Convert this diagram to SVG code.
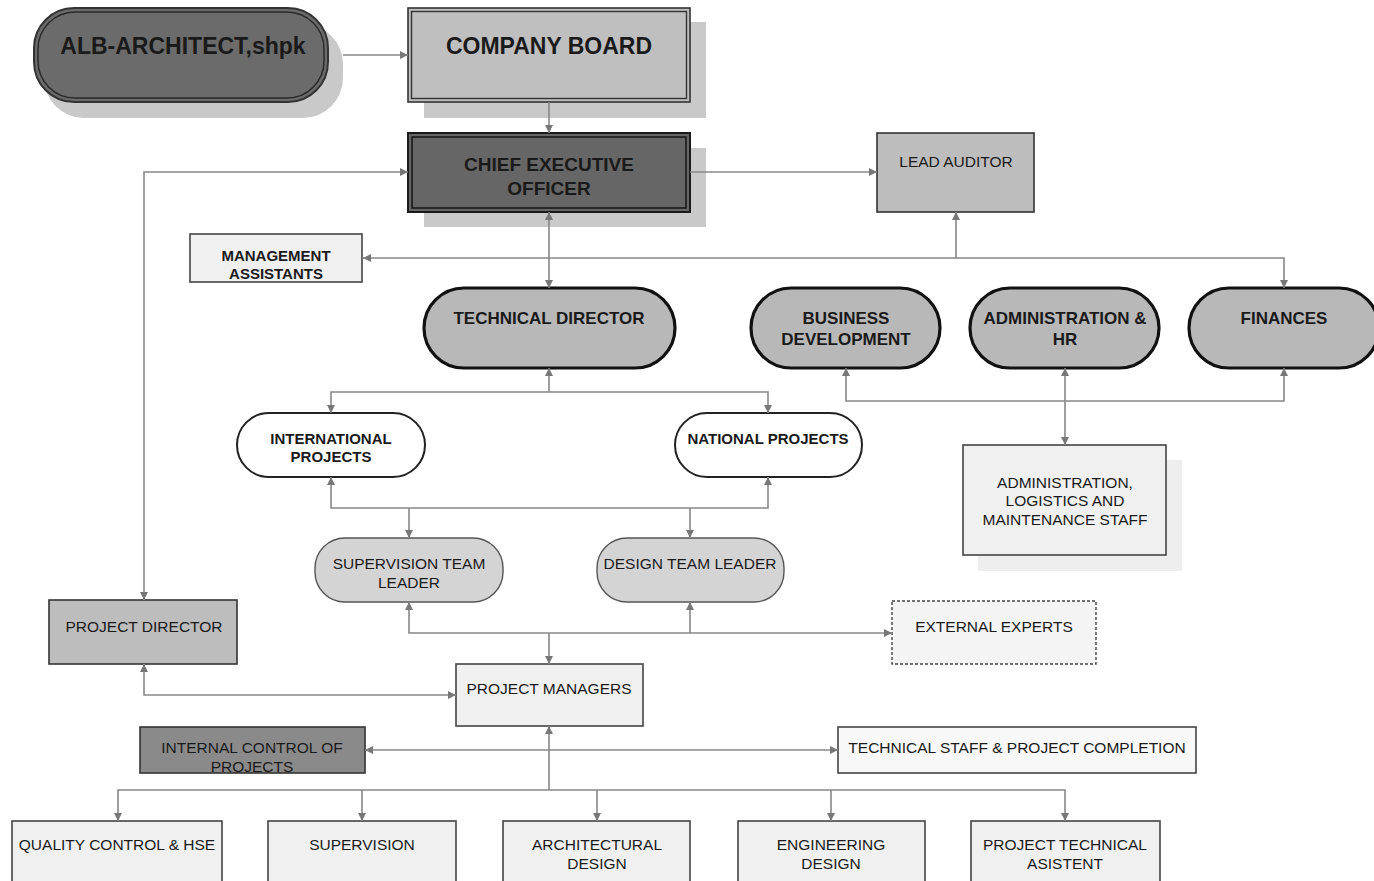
<svg xmlns="http://www.w3.org/2000/svg" width="1374" height="881" viewBox="0 0 1374 881">
<defs>
<marker id="ar" viewBox="0 0 10 10" refX="10" refY="5" markerWidth="8" markerHeight="8" markerUnits="userSpaceOnUse" orient="auto-start-reverse">
<path d="M0,0 L10,5 L0,10 z" fill="#777"/>
</marker>
<style>
text{font-family:"Liberation Sans",Arial,sans-serif;text-anchor:middle;fill:#1a1a1a}
.b{font-weight:bold}
.r{font-size:15.5px}
.c{fill:none;stroke:#888;stroke-width:1.6}
.a{marker-end:url(#ar)}
.s{marker-start:url(#ar)}
.sh{fill:#c9c9c9}
.box{fill:#f0f0f0;stroke:#444;stroke-width:1.6}
.pill{fill:#b8b8b8;stroke:#111;stroke-width:3.2}
.wp{fill:#fff;stroke:#222;stroke-width:2}
.lp{fill:#d4d4d4;stroke:#555;stroke-width:1.4}
.gb{fill:#bdbdbd;stroke:#333;stroke-width:1.6}
</style>
</defs>
<rect width="1374" height="881" fill="#fff"/>

<g id="alb">
<rect class="sh" x="44" y="24" width="299" height="94" rx="40"/>
<rect x="34" y="8" width="294" height="94" rx="40" fill="#6b6b6b" stroke="#333" stroke-width="2"/>
<rect x="38" y="12" width="286" height="86" rx="37" fill="none" stroke="#2a2a2a" stroke-width="1.5"/>
<text class="b" x="183" y="54" font-size="23">ALB-ARCHITECT,shpk</text>
</g>

<g id="board">
<rect class="sh" x="424" y="22" width="282" height="96"/>
<rect x="408" y="8" width="282" height="94" fill="#bfbfbf" stroke="#333" stroke-width="1.6"/>
<rect x="411.5" y="11.5" width="275" height="87" fill="none" stroke="#333" stroke-width="1.4"/>
<text class="b" x="549" y="54" font-size="23">COMPANY BOARD</text>
</g>

<g id="ceo">
<rect class="sh" x="424" y="148" width="282" height="79"/>
<rect x="408" y="133" width="282" height="79" fill="#666" stroke="#1a1a1a" stroke-width="2"/>
<rect x="412" y="137" width="274" height="71" fill="none" stroke="#1a1a1a" stroke-width="1.6"/>
<text class="b" x="549" y="171" font-size="19">CHIEF EXECUTIVE</text>
<text class="b" x="549" y="195" font-size="19">OFFICER</text>
</g>

<g id="auditor">
<rect class="gb" x="877" y="133" width="157" height="79"/>
<text class="r" x="956" y="167">LEAD AUDITOR</text>
</g>

<g id="mgmt">
<rect class="box" x="190" y="234" width="172" height="48"/>
<text class="b" x="276" y="261" font-size="15">MANAGEMENT</text>
<text class="b" x="276" y="279" font-size="15">ASSISTANTS</text>
</g>

<g id="techdir">
<rect class="pill" x="424" y="288" width="251" height="80" rx="40"/>
<text class="b" x="549" y="324" font-size="17">TECHNICAL DIRECTOR</text>
</g>

<g id="busdev">
<rect class="pill" x="751" y="288" width="189" height="80" rx="40"/>
<text class="b" x="846" y="324" font-size="17">BUSINESS</text>
<text class="b" x="846" y="345" font-size="17">DEVELOPMENT</text>
</g>

<g id="adminhr">
<rect class="pill" x="970" y="288" width="189" height="80" rx="40"/>
<text class="b" x="1065" y="324" font-size="17">ADMINISTRATION &amp;</text>
<text class="b" x="1065" y="345" font-size="17">HR</text>
</g>

<g id="finances">
<rect class="pill" x="1189" y="288" width="190" height="80" rx="40"/>
<text class="b" x="1284" y="324" font-size="17">FINANCES</text>
</g>

<g id="adminstaff">
<rect x="978" y="460" width="204" height="111" fill="#eeeeee"/>
<rect class="box" x="963" y="445" width="203" height="110"/>
<text class="r" x="1065" y="488">ADMINISTRATION,</text>
<text class="r" x="1065" y="506">LOGISTICS AND</text>
<text class="r" x="1065" y="525">MAINTENANCE STAFF</text>
</g>

<g id="intl">
<rect class="wp" x="237" y="413" width="188" height="64" rx="32"/>
<text class="b" x="331" y="444" font-size="15">INTERNATIONAL</text>
<text class="b" x="331" y="462" font-size="15">PROJECTS</text>
</g>

<g id="natl">
<rect class="wp" x="675" y="413" width="187" height="64" rx="32"/>
<text class="b" x="768" y="444" font-size="15">NATIONAL PROJECTS</text>
</g>

<g id="suplead">
<rect class="lp" x="315" y="538" width="188" height="64" rx="30"/>
<text class="r" x="409" y="569">SUPERVISION TEAM</text>
<text class="r" x="409" y="588">LEADER</text>
</g>

<g id="deslead">
<rect class="lp" x="597" y="538" width="187" height="64" rx="30"/>
<text class="r" x="690" y="569">DESIGN TEAM LEADER</text>
</g>

<g id="external">
<rect x="892" y="601" width="204" height="63" fill="#f4f4f4" stroke="#444" stroke-width="1.4" stroke-dasharray="3,2"/>
<text class="r" x="994" y="632">EXTERNAL EXPERTS</text>
</g>

<g id="projdir">
<rect class="gb" x="49" y="600" width="188" height="64"/>
<text class="r" x="144" y="632">PROJECT DIRECTOR</text>
</g>

<g id="projman">
<rect class="box" x="456" y="664" width="187" height="62"/>
<text class="r" x="549" y="694">PROJECT MANAGERS</text>
</g>

<g id="internal">
<rect x="140" y="727" width="225" height="46" fill="#8a8a8a" stroke="#333" stroke-width="1.6"/>
<text class="r" x="252" y="753">INTERNAL CONTROL OF</text>
<text class="r" x="252" y="772">PROJECTS</text>
</g>

<g id="techstaff">
<rect x="838" y="727" width="358" height="46" fill="#f8f8f8" stroke="#444" stroke-width="1.6"/>
<text class="r" x="1017" y="753">TECHNICAL STAFF &amp; PROJECT COMPLETION</text>
</g>

<g id="quality">
<rect class="box" x="12" y="821" width="210" height="70"/>
<text class="r" x="117" y="850">QUALITY CONTROL &amp; HSE</text>
</g>

<g id="supervision">
<rect class="box" x="268" y="821" width="188" height="70"/>
<text class="r" x="362" y="850">SUPERVISION</text>
</g>

<g id="archdesign">
<rect class="box" x="503" y="821" width="187" height="70"/>
<text class="r" x="597" y="850">ARCHITECTURAL</text>
<text class="r" x="597" y="869">DESIGN</text>
</g>

<g id="engdesign">
<rect class="box" x="738" y="821" width="187" height="70"/>
<text class="r" x="831" y="850">ENGINEERING</text>
<text class="r" x="831" y="869">DESIGN</text>
</g>

<g id="techasist">
<rect class="box" x="971" y="821" width="189" height="70"/>
<text class="r" x="1065" y="850">PROJECT TECHNICAL</text>
<text class="r" x="1065" y="869">ASISTENT</text>
</g>

<g id="connectors">
<path class="c a" d="M343,55 H408"/>
<path class="c a" d="M549,102 V133"/>
<path class="c a" d="M690,172 H877"/>
<path class="c a s" d="M408,172 H144 V600"/>
<path class="c a s" d="M549,212 V288"/>
<path class="c a s" d="M363,258 H1284 V288"/>
<path class="c a" d="M956,258 V212"/>
<path class="c a s" d="M846,368 V401 H1284 V368"/>
<path class="c a s" d="M1065,368 V445"/>
<path class="c s" d="M549,368 V392"/>
<path class="c a s" d="M331,413 V392 H768 V413"/>
<path class="c a s" d="M331,477 V508 H768 V477"/>
<path class="c a" d="M409,508 V538"/>
<path class="c a" d="M690,508 V538"/>
<path class="c a s" d="M409,602 V633 H892"/>
<path class="c a" d="M690,633 V602"/>
<path class="c a" d="M549,633 V664"/>
<path class="c a s" d="M144,664 V695 H456"/>
<path class="c a s" d="M365,750 H838"/>
<path class="c s" d="M549,726 V790"/>
<path class="c a s" d="M118,821 V790 H1065 V821"/>
<path class="c a" d="M362,790 V821"/>
<path class="c a" d="M597,790 V821"/>
<path class="c a" d="M831,790 V821"/>
</g>
</svg>
